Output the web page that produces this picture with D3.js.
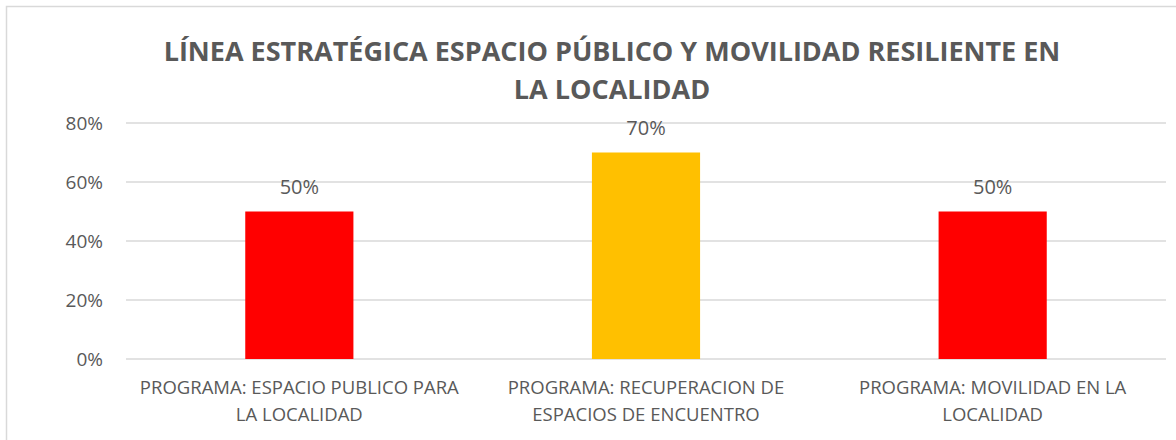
<!DOCTYPE html>
<html>
<head>
<meta charset="utf-8">
<script src="https://cdn.jsdelivr.net/npm/d3@7"></script>
<style>
    body { margin: 0; background: #fff; }
    svg { display: block; }
    .title { font-family: "Open Sans", sans-serif; font-weight: bold; fill: #595959; }
    .tick-label, .data-label, .cat-label { font-family: "Open Sans", sans-serif; fill: #595959; }
</style>
</head>
<body>
<div id="chart"></div>
<script>
// data
var categories = [
    ["PROGRAMA: ESPACIO PUBLICO PARA", "LA LOCALIDAD"],
    ["PROGRAMA: RECUPERACION DE", "ESPACIOS DE ENCUENTRO"],
    ["PROGRAMA: MOVILIDAD EN LA", "LOCALIDAD"]
];
var values = [0.5, 0.7, 0.5];
var barColors = ["#ff0000", "#ffc000", "#ff0000"];
var yTicks = [0, 0.2, 0.4, 0.6, 0.8];
var titleLines = ["LÍNEA ESTRATÉGICA ESPACIO PÚBLICO Y MOVILIDAD RESILIENTE EN", "LA LOCALIDAD"];

var width = 1176, height = 440;
var margin = {left: 126, right: 10, top: 123, bottom: 81};

var svg = d3.select("#chart").append("svg")
    .attr("width", width)
    .attr("height", height);

// chart border (cut off on the right and bottom)
svg.append("rect")
    .attr("x", 6.5).attr("y", 6.5)
    .attr("width", 1300).attr("height", 600)
    .attr("fill", "none")
    .attr("stroke", "#d9d9d9")
    .attr("stroke-width", 1.5);

// title
var title = svg.append("text")
    .attr("class", "title")
    .attr("text-anchor", "middle")
    .style("font-size", "27px");
title.selectAll("tspan")
    .data(titleLines)
    .enter().append("tspan")
    .attr("x", 612)
    .attr("y", function(d, i) { return 61 + i * 38; })
    .text(function(d) { return d; });

// scales
var x = d3.scaleBand()
    .domain(d3.range(categories.length))
    .range([margin.left, width - margin.right])
    .paddingInner(0.688)
    .paddingOuter(0.344);

var y = d3.scaleLinear()
    .domain([0, 0.8])
    .range([height - margin.bottom, margin.top]);

// gridlines
svg.selectAll(".grid")
    .data(yTicks)
    .enter().append("line")
    .attr("class", "grid")
    .attr("x1", margin.left)
    .attr("x2", width - margin.right)
    .attr("y1", function(d) { return y(d); })
    .attr("y2", function(d) { return y(d); })
    .attr("stroke", "#d9d9d9")
    .attr("stroke-width", 1.5);

// y tick labels
svg.selectAll(".tick-label")
    .data(yTicks)
    .enter().append("text")
    .attr("class", "tick-label")
    .attr("x", 103)
    .attr("y", function(d) { return y(d); })
    .attr("dy", "0.35em")
    .attr("text-anchor", "end")
    .style("font-size", "19px")
    .text(function(d) { return d3.format(".0%")(d); });

// bars
svg.selectAll(".bar")
    .data(values)
    .enter().append("rect")
    .attr("class", "bar")
    .attr("x", function(d, i) { return x(i); })
    .attr("y", function(d) { return y(d); })
    .attr("width", x.bandwidth())
    .attr("height", function(d) { return y(0) - y(d); })
    .attr("fill", function(d, i) { return barColors[i]; });

// data labels
svg.selectAll(".data-label")
    .data(values)
    .enter().append("text")
    .attr("class", "data-label")
    .attr("x", function(d, i) { return x(i) + x.bandwidth() / 2; })
    .attr("y", function(d) { return y(d) - 18; })
    .attr("text-anchor", "middle")
    .style("font-size", "20px")
    .text(function(d) { return d3.format(".0%")(d); });

// category labels
var cat = svg.selectAll(".cat-label")
    .data(categories)
    .enter().append("text")
    .attr("class", "cat-label")
    .attr("text-anchor", "middle")
    .style("font-size", "18.5px");

cat.selectAll("tspan")
    .data(function(d, i) { return d.map(function(t) { return {t: t, i: i}; }); })
    .enter().append("tspan")
    .attr("x", function(d) { return x(d.i) + x.bandwidth() / 2; })
    .attr("y", function(d, j) { return 394 + j * 27; })
    .text(function(d) { return d.t; });
</script>
</body>
</html>
